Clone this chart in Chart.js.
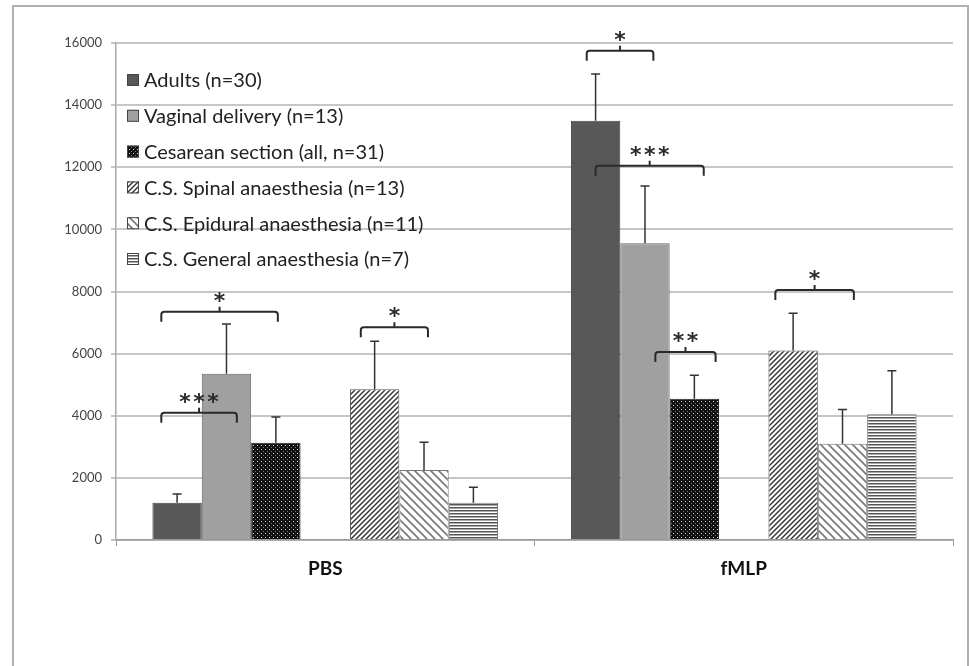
<!DOCTYPE html>
<html>
<head>
<meta charset="utf-8">
<script src="https://cdn.jsdelivr.net/npm/chart.js@4.4.0/dist/chart.umd.min.js"></script>
<style>
body { margin: 0; background: #fff; }
#wrap { width: 969px; height: 666px; }
</style>
</head>
<body>
<div id="wrap"><canvas id="chart" width="969" height="666"></canvas></div>
<script>
// 카테고리
const groups = ["PBS", "fMLP"];

// 평균값
const adults = [1200, 13500];
const vaginal = [5350, 9550];
const cesarean = [3130, 4550];
const spinal = [4850, 6100];
const epidural = [2250, 3100];
const general = [1200, 4050];

// 오차 (위쪽만)
const adultsErr = [280, 1500];
const vaginalErr = [1600, 1850];
const cesareanErr = [830, 750];
const spinalErr = [1550, 1200];
const epiduralErr = [900, 1100];
const generalErr = [500, 1400];

// y축
const yMin = 0;
const yMax = 16000;
const yStep = 2000;

// 유의성 표시 (그룹, 시작 슬롯, 끝 슬롯, y값, 라벨)
const sigGroup = [0, 0, 0, 1, 1, 1, 1];
const sigFrom = [-0.32, -0.32, 3.72, -0.18, 0, 1.21, 3.64];
const sigTo = [2.04, 1.21, 5.08, 1.17, 2.19, 2.43, 5.23];
const sigY = [7350, 4100, 6850, 15750, 12050, 6050, 8050];
const sigLabel = ["*", "***", "*", "*", "***", "**", "*"];

const canvas = document.getElementById("chart");
const mainCtx = canvas.getContext("2d");

// 패턴
function makePattern(size, draw) {
    const c = document.createElement("canvas");
    c.width = size;
    c.height = size;
    const x = c.getContext("2d");
    draw(x, size);
    return mainCtx.createPattern(c, "repeat");
}

const dotPattern = makePattern(4, (x, s) => {
    x.fillStyle = "#111";
    x.fillRect(0, 0, s, s);
    x.fillStyle = "#ddd";
    x.fillRect(1, 1, 1, 1);
    x.fillStyle = "#777";
    x.fillRect(3, 3, 1, 1);
});

const slashPattern = makePattern(5, (x, s) => {
    x.fillStyle = "#fff";
    x.fillRect(0, 0, s, s);
    x.strokeStyle = "#333";
    x.lineWidth = 1.4;
    [0, s, 2 * s].forEach(c => {
        x.beginPath();
        x.moveTo(c + 1, -1);
        x.lineTo(c - s - 1, s + 1);
        x.stroke();
    });
});

const backPattern = makePattern(8, (x, s) => {
    x.fillStyle = "#fff";
    x.fillRect(0, 0, s, s);
    x.strokeStyle = "#777";
    x.lineWidth = 1.6;
    [-s, 0, s].forEach(c => {
        x.beginPath();
        x.moveTo(c - 1, -1);
        x.lineTo(c + s + 1, s + 1);
        x.stroke();
    });
});

const hlinePattern = makePattern(3, (x, s) => {
    x.fillStyle = "#fff";
    x.fillRect(0, 0, s, s);
    x.fillStyle = "#555";
    x.fillRect(0, 0, s, 1);
    x.fillStyle = "#aaa";
    x.fillRect(0, 1, s, 1);
});

const datasets = [
    { label: "Adults (n=30)", data: adults, err: adultsErr, backgroundColor: "#585858", borderColor: "#444" },
    { label: "Vaginal delivery (n=13)", data: vaginal, err: vaginalErr, backgroundColor: "#a0a0a0", borderColor: "#666" },
    { label: "Cesarean section (all, n=31)", data: cesarean, err: cesareanErr, backgroundColor: dotPattern, borderColor: "#222" },
    { label: "", data: [null, null], err: null, backgroundColor: "rgba(0,0,0,0)", borderColor: "rgba(0,0,0,0)" },
    { label: "C.S. Spinal anaesthesia (n=13)", data: spinal, err: spinalErr, backgroundColor: slashPattern, borderColor: "#555" },
    { label: "C.S. Epidural anaesthesia (n=11)", data: epidural, err: epiduralErr, backgroundColor: backPattern, borderColor: "#777" },
    { label: "C.S. General anaesthesia (n=7)", data: general, err: generalErr, backgroundColor: hlinePattern, borderColor: "#666" }
];
datasets.forEach(d => {
    d.borderWidth = 1;
    d.categoryPercentage = 0.826;
    d.barPercentage = 1;
});

// 바깥 테두리
const framePlugin = {
    id: "frame",
    beforeDraw(chart) {
        const ctx = chart.ctx;
        ctx.save();
        ctx.fillStyle = "#fff";
        ctx.fillRect(0, 0, chart.width, chart.height);
        ctx.strokeStyle = "#b0b0b0";
        ctx.lineWidth = 2;
        ctx.strokeRect(13, 6, 955, 720);
        ctx.restore();
    }
};

// 오차 막대 + 유의성 괄호
const extrasPlugin = {
    id: "extras",
    afterDatasetsDraw(chart) {
        const ctx = chart.ctx;
        const yScale = chart.scales.y;
        ctx.save();
        ctx.strokeStyle = "#333";
        ctx.lineWidth = 1.5;
        chart.data.datasets.forEach((ds, i) => {
            if (!ds.err) return;
            const meta = chart.getDatasetMeta(i);
            meta.data.forEach((bar, g) => {
                const y0 = yScale.getPixelForValue(ds.data[g]);
                const y1 = yScale.getPixelForValue(ds.data[g] + ds.err[g]);
                ctx.beginPath();
                ctx.moveTo(bar.x, y0);
                ctx.lineTo(bar.x, y1);
                ctx.moveTo(bar.x - 4.5, y1);
                ctx.lineTo(bar.x + 4.5, y1);
                ctx.stroke();
            });
        });

        ctx.strokeStyle = "#2a2a2a";
        ctx.fillStyle = "#2a2a2a";
        ctx.lineWidth = 2;
        ctx.font = "bold 22px 'DejaVu Sans'";
        ctx.textAlign = "center";
        ctx.textBaseline = "alphabetic";
        const m0 = chart.getDatasetMeta(0);
        const m1 = chart.getDatasetMeta(1);
        sigGroup.forEach((g, k) => {
            const x0 = m0.data[g].x;
            const w = m1.data[g].x - x0;
            const xa = x0 + sigFrom[k] * w;
            const xb = x0 + sigTo[k] * w;
            const xm = (xa + xb) / 2;
            const py = yScale.getPixelForValue(sigY[k]);
            const drop = 10, r = 3;
            ctx.beginPath();
            ctx.moveTo(xa, py + drop);
            ctx.lineTo(xa, py + r);
            ctx.quadraticCurveTo(xa, py, xa + r, py);
            ctx.lineTo(xb - r, py);
            ctx.quadraticCurveTo(xb, py, xb, py + r);
            ctx.lineTo(xb, py + drop);
            ctx.moveTo(xm, py);
            ctx.lineTo(xm, py - 5);
            ctx.stroke();
            const n = sigLabel[k].length;
            for (let j = 0; j < n; j++) {
                ctx.fillText("*", xm + (j - (n - 1) / 2) * 14, py - 4);
            }
        });
        ctx.restore();
    }
};

// 범례 (차트 안쪽 왼쪽 위)
const legendPlugin = {
    id: "innerLegend",
    afterDraw(chart) {
        const ctx = chart.ctx;
        ctx.save();
        ctx.font = "20px Lato";
        ctx.textBaseline = "middle";
        ctx.textAlign = "left";
        let row = 0;
        chart.data.datasets.forEach(ds => {
            if (!ds.label) return;
            const cy = 80 + row * 35.8;
            ctx.fillStyle = ds.backgroundColor;
            ctx.fillRect(127, cy - 6, 12, 12);
            ctx.strokeStyle = "#444";
            ctx.lineWidth = 1;
            ctx.strokeRect(127.5, cy - 5.5, 11, 11);
            ctx.fillStyle = "#222";
            ctx.fillText(ds.label, 144, cy + 1);
            row++;
        });
        ctx.restore();
    }
};

const chart = new Chart(canvas, {
    type: "bar",
    data: {
        labels: groups,
        datasets: datasets
    },
    plugins: [framePlugin, extrasPlugin, legendPlugin],
    options: {
        responsive: false,
        animation: false,
        layout: {
            padding: { left: 0, top: 43, right: 16, bottom: 0 }
        },
        scales: {
            x: {
                grid: {
                    display: true,
                    drawOnChartArea: false,
                    offset: true,
                    tickLength: 6,
                    color: "#999"
                },
                border: { color: "#999", width: 1.5 },
                ticks: {
                    color: "#111",
                    padding: 11,
                    font: { family: "Lato", size: 19, weight: "bold" }
                },
                afterFit: s => { s.height = 666 - 540; }
            },
            y: {
                min: yMin,
                max: yMax,
                ticks: {
                    stepSize: yStep,
                    color: "#444",
                    padding: 9,
                    font: { family: "Lato", size: 13 },
                    callback: v => String(v)
                },
                grid: {
                    color: "#c6c6c6",
                    lineWidth: 2,
                    tickLength: 5
                },
                border: { color: "#aaa", width: 1.5 },
                afterFit: s => { s.width = 116; }
            }
        },
        plugins: {
            legend: { display: false },
            tooltip: { enabled: false }
        }
    }
});
</script>
</body>
</html>
